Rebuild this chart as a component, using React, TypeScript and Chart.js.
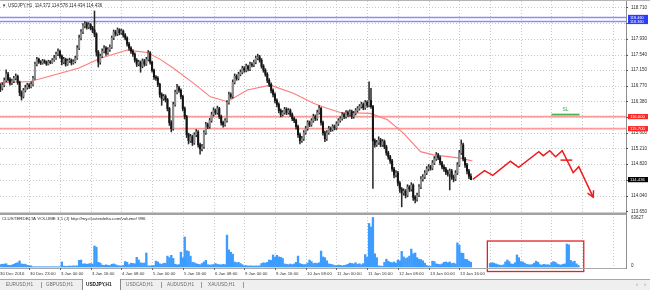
import React, { useEffect, useRef } from "react";
import { Chart, registerables } from "chart.js";
Chart.register(...registerables);

// ---------- price candles (USDJPY H1), bar index = position ----------
const opens = [
  116.75,116.70,116.78,116.90,117.05,116.92,116.83,116.88,116.95,117.00,
  116.85,116.60,116.50,116.65,116.72,116.78,116.74,116.80,116.95,117.30,
  117.42,117.36,117.33,117.38,117.35,117.30,117.36,117.34,117.40,117.45,
  117.55,117.62,117.50,117.35,117.42,117.30,117.38,117.40,117.33,117.36,
  117.45,117.70,117.95,118.10,118.25,118.30,118.22,118.28,118.20,118.15,
  118.05,117.60,117.35,117.50,117.62,117.70,117.58,117.66,117.72,117.95,
  118.10,118.05,118.15,118.08,118.12,118.02,117.95,117.80,117.70,117.62,
  117.55,117.40,117.30,117.35,117.25,117.38,117.30,117.42,117.58,117.35,
  117.15,116.98,116.95,116.80,116.55,116.45,116.50,116.42,116.20,115.85,
  115.70,116.30,116.60,116.72,116.65,116.50,116.20,116.00,115.55,115.40,
  115.50,115.35,115.55,115.62,115.30,115.20,115.25,115.60,115.80,115.75,
  115.90,116.05,116.15,116.10,116.20,116.00,115.85,115.80,115.90,116.35,
  116.55,116.50,116.85,117.00,116.95,117.05,117.10,117.20,117.15,117.25,
  117.18,117.30,117.28,117.35,117.45,117.48,117.40,117.25,117.15,117.05,
  116.90,116.80,116.65,116.55,116.40,116.30,116.15,116.05,116.10,116.18,
  116.10,116.15,116.05,115.95,115.90,115.75,115.55,115.40,115.45,115.60,
  115.70,115.85,115.80,115.90,116.00,115.95,116.10,116.20,115.85,115.60,
  115.45,115.60,115.70,115.68,115.75,115.72,115.82,115.90,115.95,116.05,
  116.00,116.10,116.05,116.12,116.00,116.08,116.15,116.20,116.25,116.30,
  116.22,116.35,116.28,116.40,116.25,115.40,115.30,115.35,115.42,115.30,
  115.38,115.25,115.10,115.00,114.90,114.70,114.55,114.60,114.35,114.20,
  114.10,114.15,114.05,114.25,114.20,114.30,114.00,113.95,114.05,114.25,
  114.45,114.50,114.60,114.70,114.75,114.72,114.85,114.95,115.05,114.98,
  114.85,114.75,114.70,114.62,114.58,114.65,114.50,114.45,114.60,114.80,
  115.10,115.30,114.95,114.80,114.65,114.52,
];
const highs = [
  116.82,116.84,116.96,117.16,117.10,116.97,116.93,117.00,117.06,117.03,
  116.88,116.64,116.70,116.78,116.83,116.82,116.86,117.00,117.35,117.47,
  117.45,117.39,117.42,117.41,117.38,117.40,117.39,117.44,117.52,117.60,
  117.68,117.65,117.53,117.47,117.45,117.43,117.45,117.43,117.41,117.50,
  117.76,118.02,118.16,118.31,118.36,118.34,118.33,118.31,118.24,118.62,
  118.08,117.64,117.55,117.68,117.76,117.74,117.71,117.78,118.00,118.15,
  118.14,118.20,118.18,118.17,118.15,118.06,117.98,117.84,117.74,117.66,
  117.58,117.44,117.40,117.38,117.43,117.42,117.47,117.64,117.61,117.38,
  117.18,117.02,116.99,116.83,116.59,116.55,116.54,116.45,116.23,115.90,
  116.36,116.66,116.80,116.76,116.69,116.53,116.24,116.03,115.59,115.56,
  115.54,115.60,115.68,115.65,115.34,115.31,115.65,115.86,115.84,115.96,
  116.11,116.22,116.19,116.26,116.23,116.04,115.89,115.95,116.40,116.61,
  116.59,116.91,117.06,117.04,117.10,117.16,117.25,117.24,117.30,117.28,
  117.35,117.34,117.40,117.50,117.55,117.52,117.44,117.29,117.19,117.09,
  116.94,116.84,116.69,116.59,116.44,116.34,116.19,116.15,116.23,116.22,
  116.20,116.19,116.09,115.99,115.94,115.79,115.59,115.51,115.65,115.76,
  115.90,115.89,115.95,116.06,116.04,116.16,116.27,116.23,115.89,115.64,
  115.65,115.76,115.74,115.80,115.79,115.87,115.95,116.00,116.10,116.09,
  116.15,116.14,116.17,116.16,116.13,116.20,116.25,116.30,116.36,116.34,
  116.40,116.39,116.86,116.70,116.28,115.45,115.41,115.50,115.46,115.43,
  115.42,115.29,115.14,115.04,114.94,114.74,114.66,114.64,114.39,114.24,
  114.21,114.19,114.31,114.29,114.36,114.33,114.04,114.10,114.31,114.51,
  114.56,114.66,114.76,114.81,114.79,114.91,115.01,115.11,115.09,115.02,
  114.89,114.80,114.74,114.67,114.70,114.69,114.55,114.66,114.86,115.16,
  115.42,115.34,114.99,114.84,114.69,114.578,
];
const lows = [
  116.62,116.66,116.74,116.86,116.88,116.78,116.79,116.84,116.91,116.80,
  116.52,116.41,116.46,116.61,116.68,116.70,116.71,116.76,116.92,117.26,
  117.32,117.29,117.30,117.32,117.27,117.28,117.31,117.32,117.37,117.42,
  117.51,117.45,117.28,117.31,117.25,117.27,117.34,117.28,117.30,117.33,
  117.42,117.66,117.90,118.06,118.20,118.17,118.18,118.15,118.08,117.98,
  117.50,117.23,117.30,117.46,117.58,117.52,117.54,117.62,117.69,117.91,
  118.00,118.01,118.03,118.04,117.97,117.90,117.75,117.65,117.57,117.49,
  117.35,117.24,117.26,117.10,117.21,117.25,117.27,117.38,117.30,117.10,
  116.92,116.90,116.74,116.48,116.28,116.40,116.36,116.14,115.78,115.62,
  115.66,116.26,116.56,116.60,116.44,116.14,115.94,115.48,115.32,115.36,
  115.28,115.31,115.50,115.24,115.07,115.15,115.21,115.56,115.70,115.71,
  115.86,116.01,116.05,116.06,115.95,115.79,115.74,115.76,115.86,116.31,
  116.45,116.46,116.81,116.90,116.91,117.01,117.06,117.10,117.11,117.13,
  117.14,117.23,117.24,117.31,117.41,117.35,117.20,117.10,117.00,116.84,
  116.74,116.59,116.49,116.34,116.24,116.09,115.99,116.01,116.06,116.05,
  116.06,116.00,115.90,115.85,115.69,115.48,115.32,115.36,115.41,115.56,
  115.66,115.75,115.76,115.86,115.90,115.91,116.06,115.79,115.54,115.38,
  115.41,115.56,115.63,115.64,115.67,115.68,115.78,115.86,115.91,115.95,
  115.96,116.00,116.01,115.95,115.96,116.04,116.11,116.16,116.21,116.17,
  116.18,116.23,116.24,116.20,114.22,115.24,115.26,115.31,115.25,115.26,
  115.20,115.04,114.94,114.84,114.64,114.48,114.50,114.28,114.12,113.76,
  114.05,113.98,114.01,114.14,114.15,113.92,113.86,113.90,114.01,114.21,
  114.40,114.46,114.56,114.65,114.67,114.68,114.81,114.91,114.93,114.80,
  114.70,114.64,114.56,114.52,114.18,114.44,114.38,114.41,114.56,114.76,
  115.06,114.90,114.74,114.58,114.46,114.434,
];
const closes = [
  116.70,116.78,116.90,117.05,116.92,116.83,116.88,116.95,117.00,116.85,
  116.60,116.50,116.65,116.72,116.78,116.74,116.80,116.95,117.30,117.42,
  117.36,117.33,117.38,117.35,117.30,117.36,117.34,117.40,117.45,117.55,
  117.62,117.50,117.35,117.42,117.30,117.38,117.40,117.33,117.36,117.45,
  117.70,117.95,118.10,118.25,118.30,118.22,118.28,118.20,118.15,118.05,
  117.60,117.35,117.50,117.62,117.70,117.58,117.66,117.72,117.95,118.10,
  118.05,118.15,118.08,118.12,118.02,117.95,117.80,117.70,117.62,117.55,
  117.40,117.30,117.35,117.25,117.38,117.30,117.42,117.58,117.35,117.15,
  116.98,116.95,116.80,116.55,116.45,116.50,116.42,116.20,115.85,115.70,
  116.30,116.60,116.72,116.65,116.50,116.20,116.00,115.55,115.40,115.50,
  115.35,115.55,115.62,115.30,115.20,115.25,115.60,115.80,115.75,115.90,
  116.05,116.15,116.10,116.20,116.00,115.85,115.80,115.90,116.35,116.55,
  116.50,116.85,117.00,116.95,117.05,117.10,117.20,117.15,117.25,117.18,
  117.30,117.28,117.35,117.45,117.48,117.40,117.25,117.15,117.05,116.90,
  116.80,116.65,116.55,116.40,116.30,116.15,116.05,116.10,116.18,116.10,
  116.15,116.05,115.95,115.90,115.75,115.55,115.40,115.45,115.60,115.70,
  115.85,115.80,115.90,116.00,115.95,116.10,116.20,115.85,115.60,115.45,
  115.60,115.70,115.68,115.75,115.72,115.82,115.90,115.95,116.05,116.00,
  116.10,116.05,116.12,116.00,116.08,116.15,116.20,116.25,116.30,116.22,
  116.35,116.28,116.40,116.25,115.40,115.30,115.35,115.42,115.30,115.38,
  115.25,115.10,115.00,114.90,114.70,114.55,114.60,114.35,114.20,114.10,
  114.15,114.05,114.25,114.20,114.30,114.00,113.95,114.05,114.25,114.45,
  114.50,114.60,114.70,114.75,114.72,114.85,114.95,115.05,114.98,114.85,
  114.75,114.70,114.62,114.58,114.65,114.50,114.45,114.60,114.80,115.10,
  115.30,114.95,114.80,114.65,114.52,114.436,
];

// ---------- ClusterDelta volume ----------
const volumes = [
  3000,3500,3800,4200,2200,2000,2500,3500,4800,5500,
  7800,4000,3500,3600,2200,1800,1500,300,300,300,
  300,300,300,300,300,300,300,300,300,300,
  300,300,6500,1200,900,1000,1300,1100,1500,1200,
  1500,8500,9000,3800,4200,3500,4000,4500,3800,27000,
  25500,6000,5000,2500,2000,2800,2200,1800,3500,4000,
  3000,2000,1500,1200,1800,7000,6000,3000,5000,4500,
  4200,12500,9000,5500,4800,5200,18000,1500,1300,1800,
  1800,7500,6500,4200,3500,4800,4800,14000,12000,15000,
  11000,3500,2800,3000,19000,12000,38500,21000,20000,14000,
  6000,5500,4200,3500,3000,4500,6500,8500,3000,2500,
  2800,3200,4500,3500,3000,2800,3300,3000,41000,22000,
  19000,16500,6500,5500,6000,4500,3000,1500,1800,1200,
  1500,1300,1100,1400,1200,1600,4500,5500,5000,6000,
  9000,8500,15500,12500,15000,13000,12500,11000,4000,3500,
  3000,3800,3200,4000,6000,14000,4500,3500,3000,3200,
  5000,9000,7000,4500,5000,4500,5500,20500,13000,12000,
  8000,4000,3500,3000,2000,1800,2500,2200,1600,2000,
  2500,3500,5000,4500,4000,5500,3500,4200,3000,4500,
  16000,12500,56000,51500,63600,17000,12000,1500,1200,1000,
  6000,10000,7500,6000,5500,6500,5000,9000,8000,20000,
  13000,11000,12000,14000,23000,17000,18000,12000,10000,9500,
  8000,5000,2000,1200,1000,7500,7000,4000,3500,3000,
  4000,6000,6500,5500,6500,4500,5000,4000,31000,28000,
  18000,17500,10000,9500,7500,6000,
];
const projectedVolumeStart = 255;
const projectedVolumes = [
  4500,5500,5000,4000,3000,2500,2000,2800,6500,9000,
  7000,4000,3500,5500,15500,12000,7000,6500,5000,3500,
  3000,2800,3200,5000,7500,6000,3000,2500,3500,2800,
  3000,2500,5500,7000,6000,4000,3000,2500,3500,4000,
  29500,28500,8500,6500,7500,4000,2000,
];
const volumeMaxLabel = 63627;
const projectedBox = { fromBar: 253.6, toBar: 303.8, topVol: 33400, bottomVol: -5800 };

// ---------- moving average (read points) ----------
const maBars = [0, 15.6, 40.6, 52.1, 66.1, 76.6, 83.3, 90.1, 100.5, 109.4, 118.2, 128.6, 140.6, 152.6, 163, 169.3, 177, 192.7, 201.6, 209.9, 218.8, 225.5, 239.6, 245.8];
const maValues = [116.84, 116.87, 117.2, 117.45, 117.65, 117.59, 117.42, 117.2, 116.83, 116.49, 116.37, 116.66, 116.78, 116.58, 116.33, 116.22, 116.1, 116.08, 115.92, 115.59, 115.13, 115.05, 114.97, 114.9];

// ---------- forecast path ----------
const forecastBars = [246.0, 252.1, 256.4, 265.6, 269.9, 280.4, 282.7, 286.1, 289.1, 292.6, 298.3, 301.2, 308.7];
const forecastPrices = [114.444, 114.657, 114.543, 114.891, 114.742, 115.129, 115.03, 115.154, 115.005, 115.154, 114.608, 114.757, 114.0];
const forecastTickBars = [291.7, 297.8];
const forecastTickPrice = 114.92;
const slBars = [287.0, 301.6];
const slPrice = 116.05;

// ---------- levels & axis ----------
const blueLevels = [118.46, 118.36];
const redLevels = [116.0, 115.7];
const lastPrice = 114.436;
const priceTicks = [118.71, 118.32, 117.93, 117.54, 117.15, 116.77, 116.38, 115.99, 115.6, 115.21, 114.82, 114.43, 114.04, 113.65];
const gridBars = [15, 31, 47, 63, 79, 95, 111, 127, 143, 159, 175, 191, 207, 223, 239, 255, 271, 287, 303, 319];
const firstTimeLabel = "30 Dec 2016";
const timeLabelBars = [15, 31, 47, 63, 79, 95, 111, 127, 143, 159, 175, 191, 207, 223, 239];
const timeLabels = ["30 Dec 23:00", "3 Jan 00:00", "3 Jan 16:00", "4 Jan 08:00", "5 Jan 00:00", "5 Jan 16:00", "6 Jan 08:00", "9 Jan 00:00", "9 Jan 16:00", "10 Jan 08:00", "11 Jan 00:00", "11 Jan 16:00", "12 Jan 08:00", "13 Jan 00:00", "13 Jan 16:00"];
const chartTitle = "USDJPY,H1  114.372 114.578 114.434 114.436";
const indicatorTitle = "CLUSTERDELTA VOLUME 3.1 (J) http://my.clusterdelta.com/volume/ 996";
const tabNames = ["EURUSD,H1", "GBPUSD,H1", "USDJPY,H1", "USDCAD,H1", "AUDUSD,H1", "XAUUSD,H1"];
const activeTab = "USDJPY,H1";

const X_MIN = -0.2, X_MAX = 325.8;
const W = 650, H = 290;
const FONT = '"Liberation Sans", Arial, sans-serif';
const AXIS_X = 626;

function txt(ctx: any, s: string, x: number, y: number, size: number, color: string, align = "left", weight = "normal") {
  ctx.font = `${weight} ${size}px ${FONT}`;
  ctx.fillStyle = color;
  ctx.textAlign = align;
  ctx.textBaseline = "middle";
  ctx.fillText(s, x, y);
}

const mt4Plugin = {
  id: "mt4",
  beforeDatasetsDraw(chart: any) {
    const { ctx } = chart;
    const xs = chart.scales.x, ys = chart.scales.y;
    ctx.save();
    ctx.strokeStyle = "#c8c8c8";
    ctx.lineWidth = 1;
    ctx.setLineDash([1, 2]);
    for (const b of gridBars) {
      const px = Math.round(xs.getPixelForValue(b)) + 0.5;
      ctx.beginPath(); ctx.moveTo(px, 1); ctx.lineTo(px, 268); ctx.stroke();
    }
    for (const p of priceTicks) {
      const py = Math.round(ys.getPixelForValue(p)) + 0.5;
      if (py > 211) continue;
      ctx.beginPath(); ctx.moveTo(0, py); ctx.lineTo(AXIS_X, py); ctx.stroke();
    }
    ctx.restore();
  },
  afterDatasetsDraw(chart: any) {
    const { ctx } = chart;
    const xs = chart.scales.x, ys = chart.scales.y, yv = chart.scales.yv;
    ctx.save();

    // forecast arrow head
    const n = forecastBars.length;
    const px1 = xs.getPixelForValue(forecastBars[n - 2]), py1 = ys.getPixelForValue(forecastPrices[n - 2]);
    const px2 = xs.getPixelForValue(forecastBars[n - 1]), py2 = ys.getPixelForValue(forecastPrices[n - 1]);
    const ang = Math.atan2(py2 - py1, px2 - px1);
    ctx.strokeStyle = "#ee1c1c"; ctx.lineWidth = 1.5;
    ctx.beginPath();
    ctx.moveTo(px2 - 7 * Math.cos(ang - 0.5), py2 - 7 * Math.sin(ang - 0.5));
    ctx.lineTo(px2, py2);
    ctx.lineTo(px2 - 7 * Math.cos(ang + 0.5), py2 - 7 * Math.sin(ang + 0.5));
    ctx.stroke();

    // SL label
    const slMid = (xs.getPixelForValue(slBars[0]) + xs.getPixelForValue(slBars[1])) / 2;
    txt(ctx, "SL", slMid, ys.getPixelForValue(slPrice) - 5, 5, "#3aa64a", "center");

    // projected volume box
    const bx1 = xs.getPixelForValue(projectedBox.fromBar), bx2 = xs.getPixelForValue(projectedBox.toBar);
    const by1 = yv.getPixelForValue(projectedBox.topVol), by2 = yv.getPixelForValue(projectedBox.bottomVol);
    ctx.strokeStyle = "#e52222"; ctx.lineWidth = 1.3;
    ctx.strokeRect(bx1, by1, bx2 - bx1, by2 - by1);

    // frames
    ctx.fillStyle = "#b4b4b4"; ctx.fillRect(0, 0, W, 1);
    ctx.fillStyle = "#a2a2a2"; ctx.fillRect(0, 212.5, AXIS_X + 1, 2.5);
    ctx.fillStyle = "#a8a8a8"; ctx.fillRect(0, 268, AXIS_X + 1, 1);
    ctx.fillStyle = "#8e8e8e"; ctx.fillRect(AXIS_X, 1, 1, 268);

    // price axis labels
    for (const p of priceTicks) {
      const py = ys.getPixelForValue(p);
      ctx.fillStyle = "#555"; ctx.fillRect(AXIS_X, Math.round(py), 2, 1);
      txt(ctx, p.toFixed(3), 631, py, 4.5, "#2a2a2a");
    }
    // level boxes
    for (const p of blueLevels) {
      const py = ys.getPixelForValue(p);
      ctx.fillStyle = "#2b3cff"; ctx.fillRect(628, py - 2.6, 20, 5.2);
    }
    for (const p of blueLevels) txt(ctx, p.toFixed(3), 630, ys.getPixelForValue(p), 3.9, "#ffffff");
    for (const p of redLevels) {
      const py = ys.getPixelForValue(p);
      ctx.fillStyle = "#ff2626"; ctx.fillRect(628, py - 2.6, 20, 5.2);
      txt(ctx, p.toFixed(3), 630, py, 4.2, "#ffffff");
    }
    {
      const py = ys.getPixelForValue(lastPrice);
      ctx.fillStyle = "#000"; ctx.fillRect(628, py - 2.6, 20, 5.2);
      txt(ctx, lastPrice.toFixed(3), 630, py, 4.2, "#ffffff");
    }
    // volume axis labels
    txt(ctx, String(volumeMaxLabel), 631, yv.getPixelForValue(volumeMaxLabel) + 0.5, 4.5, "#2a2a2a");
    txt(ctx, "0", 631, yv.getPixelForValue(0) - 1, 4.5, "#2a2a2a");

    // titles
    txt(ctx, "\u25BC", 2, 5.5, 4.2, "#333");
    txt(ctx, chartTitle, 8, 5.5, 4.5, "#2a2a2a");
    txt(ctx, indicatorTitle, 2, 218.5, 4.4, "#2a2a2a");

    // time labels
    txt(ctx, firstTimeLabel, 0, 273.5, 4.3, "#333");
    timeLabelBars.forEach((b, i) => {
      const px = Math.round(xs.getPixelForValue(b));
      ctx.fillStyle = "#666"; ctx.fillRect(px, 268, 1, 2);
      txt(ctx, timeLabels[i], px + 1, 273.5, 4.3, "#333");
    });

    // tab strip
    ctx.fillStyle = "#efefef"; ctx.fillRect(0, 279, W, 11);
    ctx.fillStyle = "#a8a8a8"; ctx.fillRect(0, 279, W, 1);
    const tabX = [6, 46, 86, 126, 167, 208];
    const sepX = [41, 79, 121, 161, 201, 243];
    ctx.fillStyle = "#ffffff"; ctx.fillRect(82, 279, 38, 11);
    ctx.fillStyle = "#8a8a8a"; ctx.fillRect(82, 279, 1, 11); ctx.fillRect(120, 279, 1, 11);
    ctx.fillStyle = "#9a9a9a";
    for (const s of sepX) if (s !== 79 && s !== 121) ctx.fillRect(s, 282, 1, 6);
    tabNames.forEach((t, i) => {
      const act = t === activeTab;
      txt(ctx, t, tabX[i], 285.2, 4.7, act ? "#111" : "#6a6a6a", "left", act ? "bold" : "normal");
    });
    txt(ctx, "\u2039", 637, 285, 5, "#777", "center");
    txt(ctx, "\u203A", 645, 285, 5, "#777", "center");
    ctx.restore();
  },
};

export default function App() {
  const ref = useRef<HTMLCanvasElement | null>(null);
  useEffect(() => {
    document.body.style.margin = "0";
    const canvas = ref.current;
    if (!canvas) return;
    const bars = closes.map((_, i) => i);
    const bodies = bars.map((i) => ({ x: i, y: [opens[i], closes[i]] }));
    const bodyColors = bars.map((i) => (closes[i] >= opens[i] ? "#8e8e8e" : "#141414"));
    const wicks = bars.map((i) => ({ x: i, y: [lows[i], highs[i]] }));
    const vol = [
      ...volumes.map((v, i) => ({ x: i, y: v })),
      ...projectedVolumes.map((v, i) => ({ x: projectedVolumeStart + i, y: v })),
    ];
    const hline = (p: number) => [{ x: X_MIN, y: p }, { x: X_MAX, y: p }];
    const line = (data: any, color: string, width: number, order: number, yAxisID = "y") => ({
      type: "line", data, borderColor: color, borderWidth: width, pointRadius: 0, order, yAxisID, tension: 0, fill: false,
    });
    const chart = new Chart(canvas, {
      type: "line",
      data: {
        datasets: [
          line(forecastBars.map((b, i) => ({ x: b, y: forecastPrices[i] })), "#ee1c1c", 1.5, 0),
          line(forecastTickBars.map((b) => ({ x: b, y: forecastTickPrice })), "#ee1c1c", 1.5, 0),
          line(slBars.map((b) => ({ x: b, y: slPrice })), "#45b552", 1.8, 1),
          { type: "bar", data: bodies, backgroundColor: bodyColors, barThickness: 1.4, grouped: false, order: 2, yAxisID: "y", borderWidth: 0 },
          { type: "bar", data: wicks, backgroundColor: "#2a2a2a", barThickness: 0.9, grouped: false, order: 3, yAxisID: "y", borderWidth: 0 },
          line(maBars.map((b, i) => ({ x: b, y: maValues[i] })), "#ff7a7a", 1.1, 4),
          ...blueLevels.map((p) => line(hline(p), "#8c8cff", 1.6, 5)),
          ...redLevels.map((p) => line(hline(p), "#ff9a9a", 1.8, 5)),
          { type: "bar", data: vol, backgroundColor: "#3d9cff", barThickness: 1.7, grouped: false, order: 6, yAxisID: "yv", borderWidth: 0 },
        ] as any,
      },
      options: {
        animation: false,
        responsive: false,
        maintainAspectRatio: false,
        devicePixelRatio: 1,
        layout: { padding: { left: 0, right: 24, top: 1, bottom: 22 }, autoPadding: false },
        plugins: { legend: { display: false }, tooltip: { enabled: false }, title: { display: false } },
        events: [],
        scales: {
          x: {
            type: "linear", min: X_MIN, max: X_MAX, display: false, offset: false, bounds: "data", grace: 0,
            grid: { offset: false },
            afterDataLimits: (s: any) => { s.min = X_MIN; s.max = X_MAX; },
          },
          y: {
            type: "linear", min: 112.243, max: 118.868, display: false,
            afterDataLimits: (s: any) => { s.min = 112.243; s.max = 118.868; },
          },
          yv: {
            type: "linear", min: -1285, max: 341914, display: false,
            afterDataLimits: (s: any) => { s.min = -1285; s.max = 341914; },
          },
        },
      } as any,
      plugins: [mt4Plugin as any],
    });
    return () => chart.destroy();
  }, []);
  return (
    <div style={{ position: "relative", width: W, height: H, background: "#ffffff", overflow: "hidden" }}>
      <canvas ref={ref} width={W} height={H} style={{ display: "block", width: W, height: H }} />
    </div>
  );
}
